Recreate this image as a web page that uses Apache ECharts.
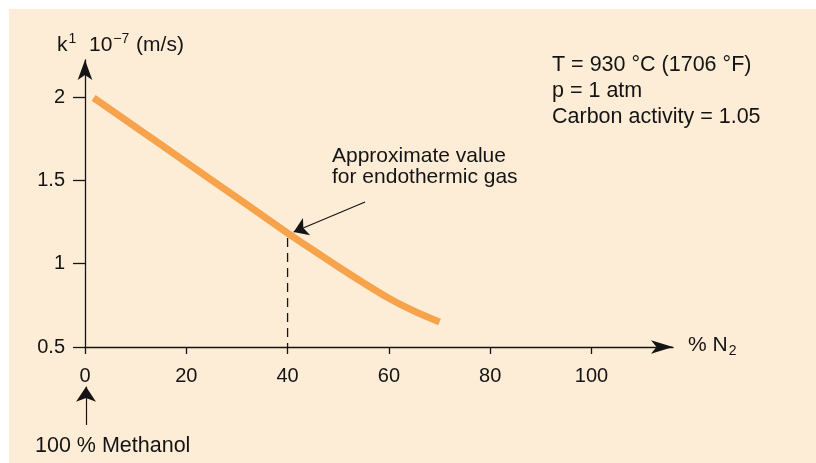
<!DOCTYPE html>
<html>
<head>
<meta charset="utf-8">
<script src="https://cdn.jsdelivr.net/npm/echarts@6/dist/echarts.min.js"></script>
<style>
  html, body { margin: 0; padding: 0; background: #ffffff; }
  #wrap { position: relative; width: 816px; height: 463px; overflow: hidden; }
  #panel { position: absolute; left: 9px; top: 9px; right: 0; bottom: 0; background: #fdecd6; }
  #chart { position: absolute; left: 0; top: 0; width: 816px; height: 463px; }
</style>
</head>
<body>
<div id="wrap">
  <div id="panel"></div>
  <div id="chart"></div>
</div>
<script>
// Mass-transfer coefficient vs. nitrogen share of a N2/methanol atmosphere
const nitrogenPct = [1.7, 10, 20, 30, 40, 45, 50, 55, 60, 65, 70];
const kValues     = [1.995, 1.82, 1.608, 1.396, 1.184, 1.082, 0.982, 0.885, 0.793, 0.715, 0.65];

const xTicks = [0, 20, 40, 60, 80, 100];
const yTicks = [0.5, 1, 1.5, 2];

// Endothermic gas reference point
const endoPct = 40;
const endoK = 1.184;

// Leader arrow for the endothermic gas note (from note to curve)
const noteArrow = [[55.3, 1.37], [41.2, 1.19]];
// Arrow under the origin pointing at 0 % N2 (pure methanol)
const methanolArrow = [[0.2, 0.032], [0.2, 0.262]];

const conditions = ['T = 930 °C (1706 °F)', 'p = 1 atm', 'Carbon activity = 1.05'];
const noteText = ['Approximate value', 'for endothermic gas'];
const originText = '100 % Methanol';

const FONT = '"Liberation Sans", Arial, Helvetica, sans-serif';
const INK = '#141414';

const chart = echarts.init(document.getElementById('chart'), null, { renderer: 'canvas' });

const axisLineStyle = { color: INK, width: 1.3 };

chart.setOption({
  backgroundColor: 'transparent',
  animation: false,
  grid: { left: 85, right: 143, top: 60, bottom: 116, containLabel: false, outerBoundsMode: 'none' },
  xAxis: {
    type: 'value',
    min: 0,
    max: 116.1,
    axisLine: { show: true, lineStyle: axisLineStyle, symbol: ['none', 'arrow'], symbolSize: [10, 22] },
    axisTick: { show: true, length: 7, lineStyle: axisLineStyle, customValues: xTicks },
    axisLabel: { show: true, margin: 19, fontSize: 20, color: INK, fontFamily: FONT, customValues: xTicks },
    splitLine: { show: false }
  },
  yAxis: {
    type: 'value',
    min: 0.5,
    max: 2.2227,
    axisLine: { show: true, lineStyle: axisLineStyle, symbol: ['none', 'arrow'], symbolSize: [11, 20] },
    axisTick: { show: true, length: 12, lineStyle: axisLineStyle, customValues: yTicks },
    axisLabel: { show: true, margin: 20, fontSize: 20, color: INK, fontFamily: FONT, customValues: yTicks },
    splitLine: { show: false }
  },
  series: [
    {
      name: 'k',
      type: 'line',
      data: nitrogenPct.map((x, i) => [x, kValues[i]]),
      smooth: 0.3,
      showSymbol: false,
      lineStyle: { color: '#f6a34b', width: 7, cap: 'butt' },
      z: 3,
      silent: true
    },
    {
      name: 'endothermic drop',
      type: 'line',
      data: [[endoPct, endoK - 0.03], [endoPct, 0.5]],
      showSymbol: false,
      lineStyle: { color: INK, width: 1.3, type: [9, 6] },
      z: 2,
      silent: true
    },
    {
      name: 'arrows',
      type: 'lines',
      coordinateSystem: 'cartesian2d',
      clip: false,
      symbol: ['none', 'arrow'],
      symbolSize: [9, 14],
      lineStyle: { color: INK, width: 1.2, opacity: 1, curveness: 0 },
      data: [
        { coords: noteArrow },
        { coords: methanolArrow, symbolSize: [12, 15] }
      ],
      z: 4,
      silent: true
    }
  ],
  graphic: [
    {
      type: 'text',
      left: 57,
      top: 32,
      style: {
        text: '{a|k}{s|1}{a|  10}{s|−7}{a| (m/s)}',
        fill: INK,
        rich: {
          a: { fontSize: 21, fontFamily: FONT, fill: INK },
          s: { fontSize: 14, fontFamily: FONT, fill: INK, padding: [0, 1, 12, 1] }
        }
      }
    },
    {
      type: 'text',
      left: 688,
      top: 335,
      style: {
        text: '{a|% N}{b|2}',
        fill: INK,
        rich: {
          a: { fontSize: 21, fontFamily: FONT, fill: INK },
          b: { fontSize: 14, fontFamily: FONT, fill: INK, padding: [11, 0, 0, 1] }
        }
      }
    },
    {
      type: 'text',
      left: 552,
      top: 52,
      style: {
        text: conditions.join('\n'),
        fontSize: 21.5,
        fontFamily: FONT,
        fill: INK,
        lineHeight: 26
      }
    },
    {
      type: 'text',
      left: 332,
      top: 146,
      style: {
        text: noteText.join('\n'),
        fontSize: 21,
        fontFamily: FONT,
        fill: INK,
        lineHeight: 21
      }
    },
    {
      type: 'text',
      left: 35,
      top: 435,
      style: {
        text: originText,
        fontSize: 21.5,
        fontFamily: FONT,
        fill: INK
      }
    }
  ]
});
</script>
</body>
</html>
